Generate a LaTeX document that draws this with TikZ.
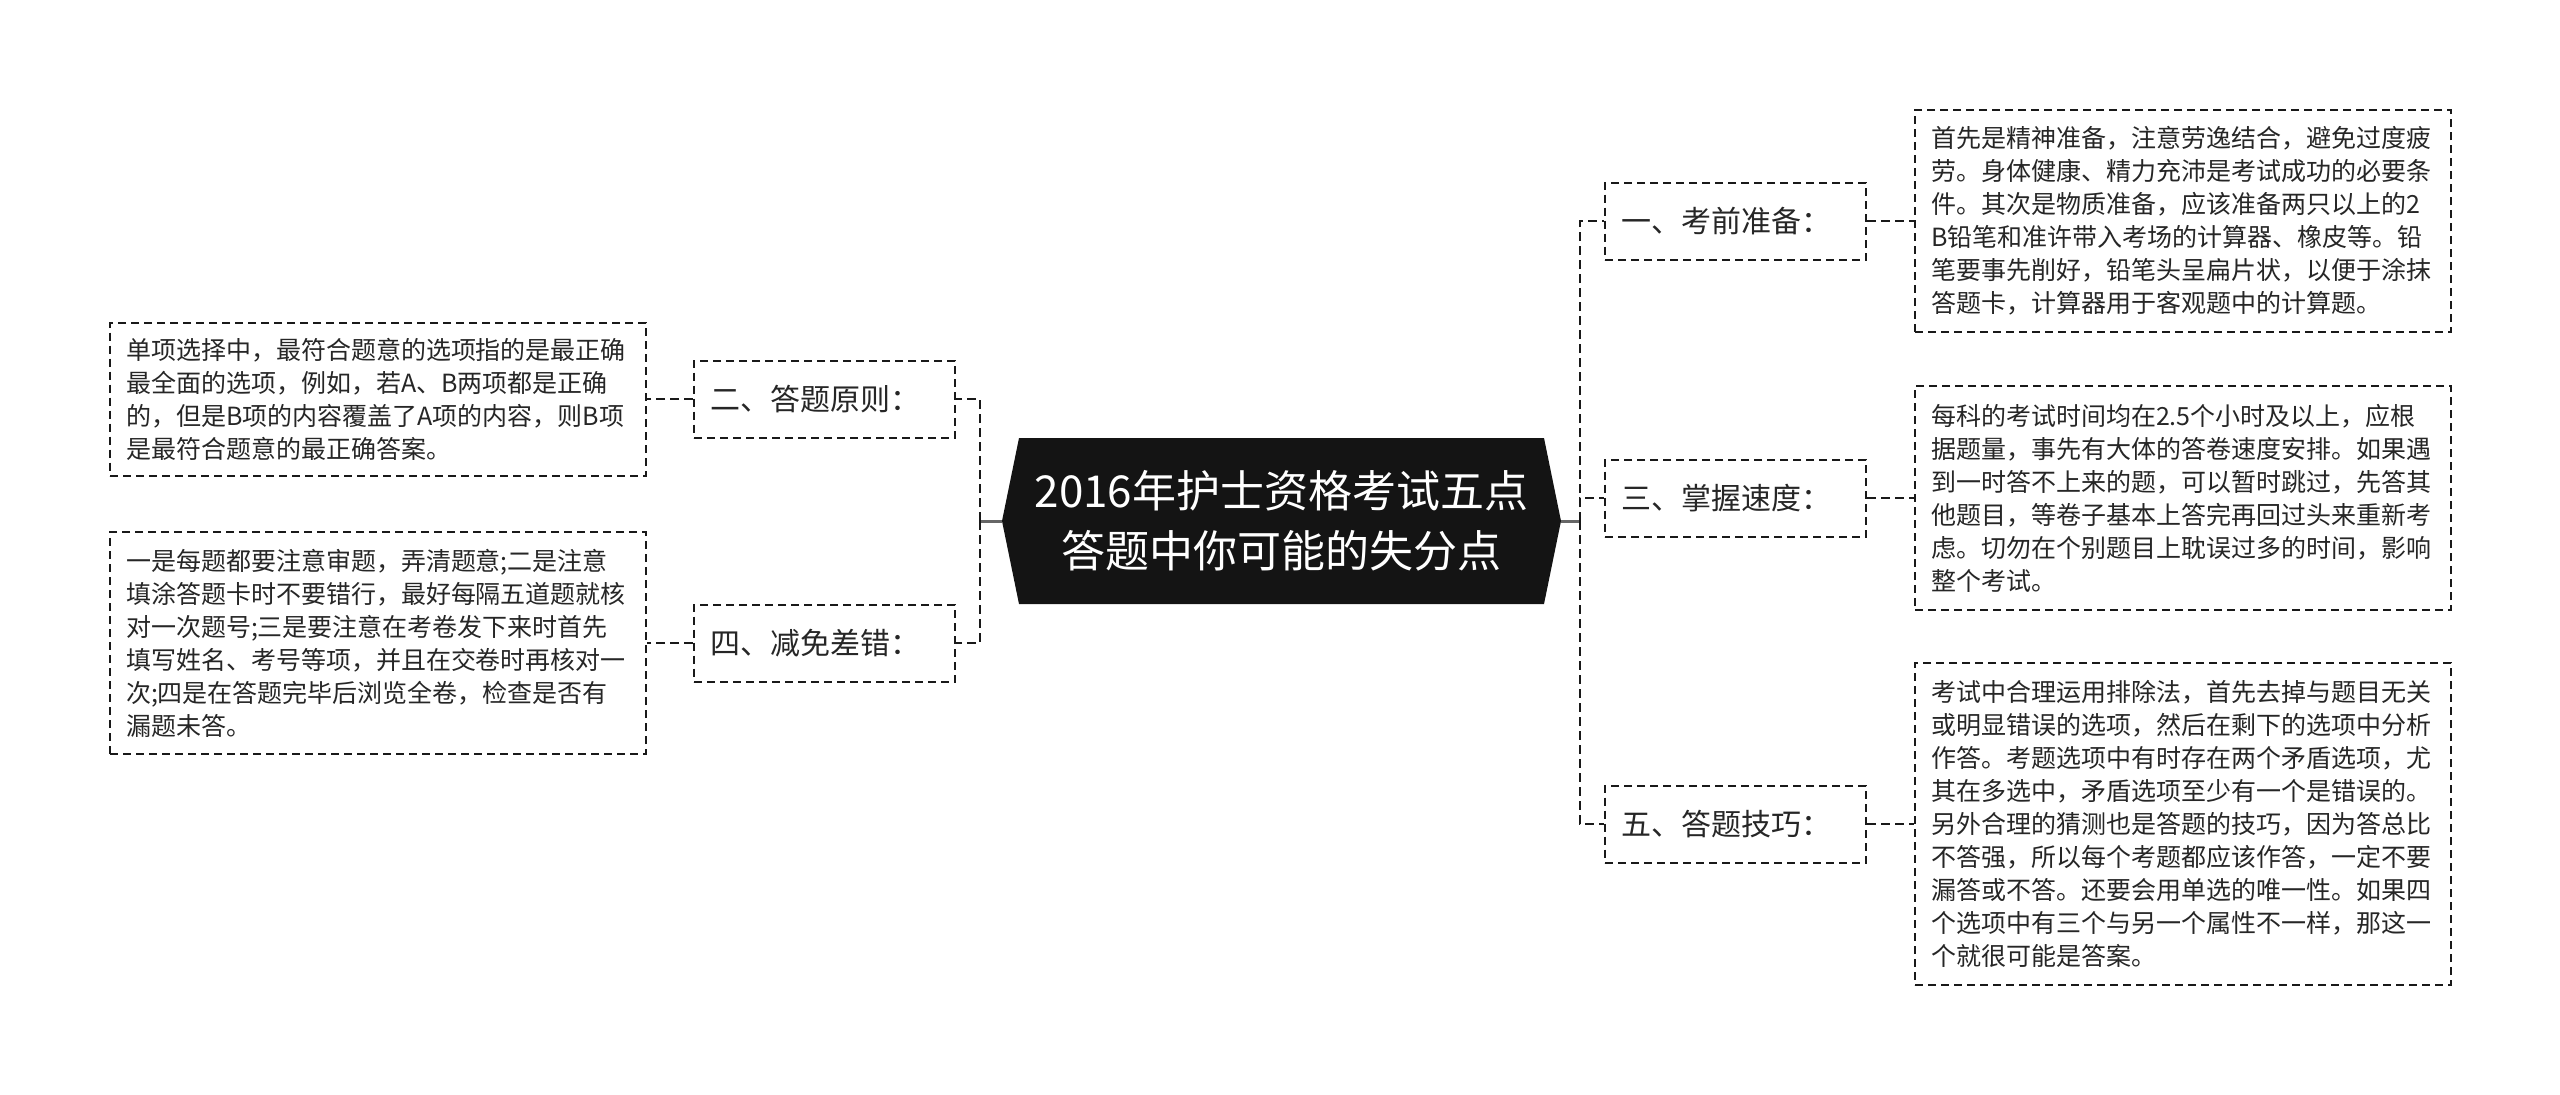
\documentclass[tikz,border=0pt]{standalone}
\usepackage{fontspec}
\setmainfont{Noto Sans CJK SC}
\usetikzlibrary{calc}
\begin{document}
\begin{tikzpicture}[x=0.5pt,y=-0.5pt,
  dline/.style={draw=black!90, line width=1pt, dash pattern=on 4pt off 2.5pt},
  detail/.style={dline, text=black!85, font=\fontsize{12.5pt}{16.5pt}\selectfont, align=left, text width=252pt, inner xsep=8pt, inner ysep=0pt, anchor=center},
  lvl/.style={dline, text=black!85, font=\fontsize{15pt}{18pt}\selectfont, text width=114.5pt, align=left, minimum height=38.5pt, inner xsep=8pt, inner ysep=0pt},
  conn/.style={draw=black!90, line width=1.4pt, dash pattern=on 4.5pt off 2.5pt},
  solidc/.style={draw=black!60, line width=1.5pt}
]
\useasboundingbox (0,0) rectangle (2560,1094);
% central hexagon
\coordinate (cL) at (1002,521);
\coordinate (cR) at (1561,521);
\coordinate (jL) at (980,521);
\coordinate (jR) at (1580,521);
\fill[black!92] (cL) -- (1019,438) -- (1544,438) -- (cR) -- (1544,604) -- (1019,604) -- cycle;
\node[text=white, font=\fontsize{22pt}{30pt}\selectfont, align=center] (c) at (1281.5,521) {2016年护士资格考试五点\\答题中你可能的失分点};

% right level-1
\node[lvl] (r1) at (1735.5,221) {一、考前准备：};
\node[lvl] (r2) at (1735.5,498) {三、掌握速度：};
\node[lvl] (r3) at (1735.5,824) {五、答题技巧：};
% left level-1
\node[lvl] (l1) at (824.5,399) {二、答题原则：};
\node[lvl] (l2) at (824.5,643) {四、减免差错：};

% right details
\node[detail, minimum height=111pt] (d1) at (2183,221) {首先是精神准备，注意劳逸结合，避免过度疲\\劳。身体健康、精力充沛是考试成功的必要条\\件。其次是物质准备，应该准备两只以上的2\\B铅笔和准许带入考场的计算器、橡皮等。铅\\笔要事先削好，铅笔头呈扁片状，以便于涂抹\\答题卡，计算器用于客观题中的计算题。};
\node[detail, minimum height=112pt] (d2) at (2183,498) {每科的考试时间均在2.5个小时及以上，应根\\据题量，事先有大体的答卷速度安排。如果遇\\到一时答不上来的题，可以暂时跳过，先答其\\他题目，等卷子基本上答完再回过头来重新考\\虑。切勿在个别题目上耽误过多的时间，影响\\整个考试。};
\node[detail, minimum height=161pt] (d3) at (2183,824) {考试中合理运用排除法，首先去掉与题目无关\\或明显错误的选项，然后在剩下的选项中分析\\作答。考题选项中有时存在两个矛盾选项，尤\\其在多选中，矛盾选项至少有一个是错误的。\\另外合理的猜测也是答题的技巧，因为答总比\\不答强，所以每个考题都应该作答，一定不要\\漏答或不答。还要会用单选的唯一性。如果四\\个选项中有三个与另一个属性不一样，那这一\\个就很可能是答案。};
% left details
\node[detail, minimum height=76.5pt] (ld1) at (378,399) {单项选择中，最符合题意的选项指的是最正确\\最全面的选项，例如，若A、B两项都是正确\\的，但是B项的内容覆盖了A项的内容，则B项\\是最符合题意的最正确答案。};
\node[detail, minimum height=111pt] (ld2) at (378,643) {一是每题都要注意审题，弄清题意;二是注意\\填涂答题卡时不要错行，最好每隔五道题就核\\对一次题号;三是要注意在考卷发下来时首先\\填写姓名、考号等项，并且在交卷时再核对一\\次;四是在答题完毕后浏览全卷，检查是否有\\漏题未答。};

% connectors
\draw[solidc] (cR) -- (jR);
\draw[solidc] (cL) -- (jL);
\draw[conn] (jR) |- (r1.west);
\draw[conn] (jR) |- (r2.west);
\draw[conn] (jR) |- (r3.west);
\draw[conn] (jL) |- (l1.east);
\draw[conn] (jL) |- (l2.east);
\draw[conn] (r1.east) -- (d1.west);
\draw[conn] (r2.east) -- (d2.west);
\draw[conn] (r3.east) -- (d3.west);
\draw[conn] (l1.west) -- (ld1.east);
\draw[conn] (l2.west) -- (ld2.east);
\end{tikzpicture}
\end{document}
